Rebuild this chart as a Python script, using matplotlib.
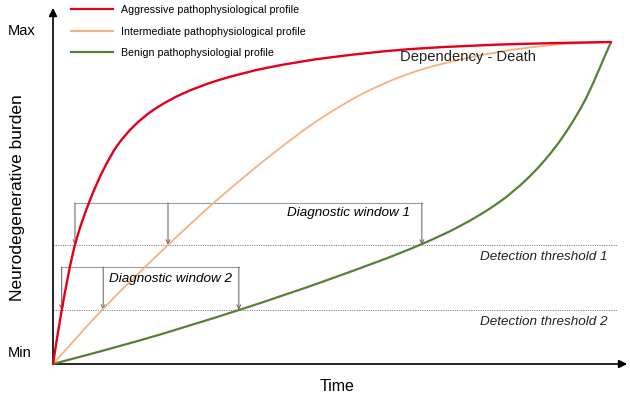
import numpy as np
import matplotlib
matplotlib.use('Agg')
import matplotlib.pyplot as plt
from matplotlib.path import Path
from matplotlib.patches import PathPatch
from matplotlib.lines import Line2D

plt.rcParams['font.family'] = ['Liberation Sans', 'DejaVu Sans']

# curves: time (0-100) vs neurodegenerative burden (0-100)
red_t = [0, 1.61, 3.94, 6.63, 9.0, 11.5, 14.5, 18.0, 23.3, 29.4, 38.4, 49.6, 65.8, 83.7, 100]
red_b = [0, 17.2, 37.0, 50.9, 60.2, 67.8, 73.9, 78.9, 84.0, 88.0, 92.0, 95.2, 98.0, 99.4, 100]

orange_t = [0, 8.96, 20.61, 29.39, 39.78, 47.85, 56.81, 65.77, 74.73, 83.69, 92.65, 100]
orange_b = [0, 17.08, 36.96, 50.93, 65.84, 76.09, 85.09, 91.30, 95.2, 97.9, 99.5, 100]

green_t = [0, 15, 33.33, 50, 65.77, 73, 80, 85, 90, 95, 100]
green_b = [0, 7.05, 16.77, 26.6, 37.0, 42.9, 50.3, 57.55, 67.3, 80.8, 100]

labels = ['Aggressive pathophysiological profile',
          'Intermediate pathophysiological profile',
          'Benign pathophysiologial profile']
colors = ['#E2001A', '#F4B183', '#548235']
widths = [1.7, 1.3, 1.6]

# detection thresholds and diagnostic windows
thr1 = 37.0
thr2 = 16.8
win1_t = [3.94, 20.61, 66.1]
win1_top = 50.0
win2_t = [1.55, 9.0, 33.3]
win2_top = 30.1


def smooth_path(x, y):
    # monotone cubic (Fritsch-Carlson) through the points, drawn as bezier segments
    x = np.asarray(x, float)
    y = np.asarray(y, float)
    h = np.diff(x)
    d = np.diff(y) / h
    m = np.zeros(len(x))
    m[0], m[-1] = d[0], d[-1]
    for k in range(1, len(x) - 1):
        if d[k - 1] * d[k] <= 0:
            m[k] = 0
        else:
            w1 = 2 * h[k] + h[k - 1]
            w2 = h[k] + 2 * h[k - 1]
            m[k] = (w1 + w2) / (w1 / d[k - 1] + w2 / d[k])
    verts = [(x[0], y[0])]
    codes = [Path.MOVETO]
    for k in range(len(x) - 1):
        verts += [(x[k] + h[k] / 3, y[k] + m[k] * h[k] / 3),
                  (x[k + 1] - h[k] / 3, y[k + 1] - m[k + 1] * h[k] / 3),
                  (x[k + 1], y[k + 1])]
        codes += [Path.CURVE4] * 3
    return Path(verts, codes)


fig = plt.figure(figsize=(6.3, 4.01), dpi=100)
ax = fig.add_axes([53 / 630, 37 / 401, 558 / 630, 322 / 401])
ax.set_xlim(0, 100)
ax.set_ylim(0, 100)
ax.axis('off')

# threshold lines
for thr in [thr1, thr2]:
    ax.plot([0, 101.1], [thr, thr], color='#808080', lw=0.7, ls=(0, (1.2, 1.2)), clip_on=False, zorder=1)

# diagnostic windows (brackets with arrows)
for wt, top, thr in [(win1_t, win1_top, thr1), (win2_t, win2_top, thr2)]:
    ax.plot([wt[0], wt[-1]], [top, top], color='#9a9a9a', lw=0.8, zorder=2)
    for t in wt:
        ax.annotate('', xy=(t, thr), xytext=(t, top),
                    arrowprops=dict(arrowstyle='->', color='#707070', lw=0.8,
                                    mutation_scale=7, shrinkA=0, shrinkB=0), zorder=2)

series = [(red_t, red_b), (orange_t, orange_b), (green_t, green_b)]
zorders = [5, 3, 4]
for (t, b), c, lw, z in zip(series, colors, widths, zorders):
    ax.add_patch(PathPatch(smooth_path(t, b), facecolor='none', edgecolor=c, lw=lw,
                           zorder=z, clip_on=False, capstyle='round'))

# axes arrows
for tip in [(0, 110.6), (102.9, 0)]:
    ax.annotate('', xy=tip, xytext=(0, 0), annotation_clip=False,
                arrowprops=dict(arrowstyle='-|>', color='black', lw=1.2,
                                mutation_scale=12, shrinkA=0, shrinkB=0))

# texts
ax.text(-8.06, 103.5, 'Max', fontsize=10.5, ha='left', va='center')
ax.text(-8.06, 3.5, 'Min', fontsize=10.5, ha='left', va='center')
ax.text(-6.3, 51.6, 'Neurodegenerative burden', fontsize=12.5, rotation=90, ha='center', va='center')
ax.text(50.9, -7.1, 'Time', fontsize=11.5, ha='center', va='center')

ax.text(41.9, 46.9, 'Diagnostic window 1', fontsize=9.7, style='italic', ha='left', va='center')
ax.text(10.0, 26.4, 'Diagnostic window 2', fontsize=9.7, style='italic', ha='left', va='center')
ax.text(76.5, 33.2, 'Detection threshold 1', fontsize=9.7, style='italic', ha='left', va='center', color='#222222')
ax.text(76.5, 13.0, 'Detection threshold 2', fontsize=9.7, style='italic', ha='left', va='center', color='#222222')
ax.text(62.2, 95.3, 'Dependency - Death', fontsize=10.6, ha='left', va='center', color='#222222')

# legend
handles = [Line2D([], [], color=c, lw=1.6) for c in colors]
ax.legend(handles, labels, loc='upper left', bbox_to_anchor=(71 / 630, 1 - 5 / 401),
          bbox_transform=fig.transFigure, frameon=False, fontsize=7.7,
          handlelength=3.9, handletextpad=0.8, labelspacing=1.08,
          borderpad=0, borderaxespad=0)

fig.savefig('out.png', dpi=100)
